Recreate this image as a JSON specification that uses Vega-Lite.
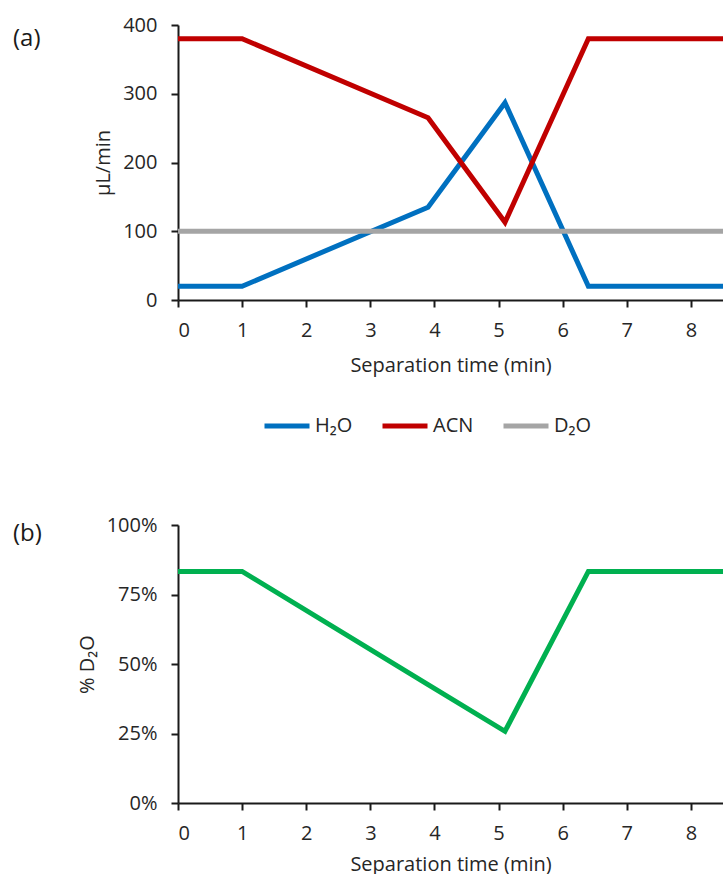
{
  "$schema": "https://vega.github.io/schema/vega-lite/v6.json",
  "padding": {"left": 13, "top": 15, "right": 0, "bottom": 0},
  "background": "white",
  "config": {
    "font": "Open Sans",
    "view": {"stroke": null},
    "axis": {
      "domainColor": "#1a1a1a", "domainWidth": 2,
      "tickColor": "#1a1a1a", "tickWidth": 2, "tickSize": 7,
      "labelFontSize": 20, "labelColor": "#262626", "labelFont": "Open Sans",
      "titleFontSize": 20, "titleFontWeight": "normal", "titleColor": "#262626", "titleFont": "Open Sans",
      "grid": false
    },
    "axisY": {"labelPadding": 14, "titlePadding": 9},
    "axisX": {"labelPadding": 13, "titlePadding": 15},
    "title": {"fontSize": 24, "fontWeight": "normal", "anchor": "start", "frame": "group", "color": "#1a1a1a", "font": "Open Sans"}
  },
  "spacing": 140,
  "vconcat": [
    {
      "width": 545,
      "height": 275,
      "title": {"text": "(a)", "dx": -165, "dy": 40},
      "data": {
        "values": [
          {"t": 0, "s": "H₂O", "v": 20},
          {"t": 1, "s": "H₂O", "v": 20},
          {"t": 3.9, "s": "H₂O", "v": 135},
          {"t": 5.1, "s": "H₂O", "v": 287},
          {"t": 6.4, "s": "H₂O", "v": 20},
          {"t": 8.5, "s": "H₂O", "v": 20},
          {"t": 0, "s": "ACN", "v": 380},
          {"t": 1, "s": "ACN", "v": 380},
          {"t": 3.9, "s": "ACN", "v": 265},
          {"t": 5.1, "s": "ACN", "v": 113},
          {"t": 6.4, "s": "ACN", "v": 380},
          {"t": 8.5, "s": "ACN", "v": 380},
          {"t": 0, "s": "D₂O", "v": 100},
          {"t": 8.5, "s": "D₂O", "v": 100}
        ]
      },
      "mark": {"type": "line", "strokeWidth": 5, "strokeJoin": "miter"},
      "encoding": {
        "x": {
          "field": "t", "type": "quantitative",
          "scale": {"domain": [0, 8.5], "nice": false},
          "axis": {"values": [0, 1, 2, 3, 4, 5, 6, 7, 8], "title": "Separation time (min)"}
        },
        "y": {
          "field": "v", "type": "quantitative",
          "scale": {"domain": [0, 400]},
          "axis": {"values": [0, 100, 200, 300, 400], "title": "µL/min"}
        },
        "color": {
          "field": "s", "type": "nominal",
          "sort": ["H₂O", "ACN", "D₂O"],
          "scale": {"domain": ["H₂O", "ACN", "D₂O"], "range": ["#0070C0", "#C00000", "#A5A5A5"]},
          "legend": {
            "orient": "none", "legendX": 84, "legendY": 376,
            "direction": "horizontal", "title": null,
            "symbolType": "stroke", "symbolSize": 2025, "symbolStrokeWidth": 5,
            "labelFontSize": 20, "labelOffset": 3, "columnPadding": 19,
            "labelColor": "#262626", "labelFont": "Open Sans"
          }
        }
      }
    },
    {
      "width": 545,
      "height": 278,
      "title": {"text": "(b)", "dx": -165, "dy": 35},
      "data": {
        "values": [
          {"t": 0, "p": 0.833},
          {"t": 1, "p": 0.833},
          {"t": 3.9, "p": 0.426},
          {"t": 5.1, "p": 0.258},
          {"t": 6.4, "p": 0.833},
          {"t": 8.5, "p": 0.833}
        ]
      },
      "mark": {"type": "line", "strokeWidth": 5, "strokeJoin": "miter", "color": "#00B050"},
      "encoding": {
        "x": {
          "field": "t", "type": "quantitative",
          "scale": {"domain": [0, 8.5], "nice": false},
          "axis": {"values": [0, 1, 2, 3, 4, 5, 6, 7, 8], "title": "Separation time (min)", "titlePadding": 11}
        },
        "y": {
          "field": "p", "type": "quantitative",
          "scale": {"domain": [0, 1]},
          "axis": {"values": [0, 0.25, 0.5, 0.75, 1], "format": ".0%", "title": "% D₂O"}
        }
      }
    }
  ]
}
